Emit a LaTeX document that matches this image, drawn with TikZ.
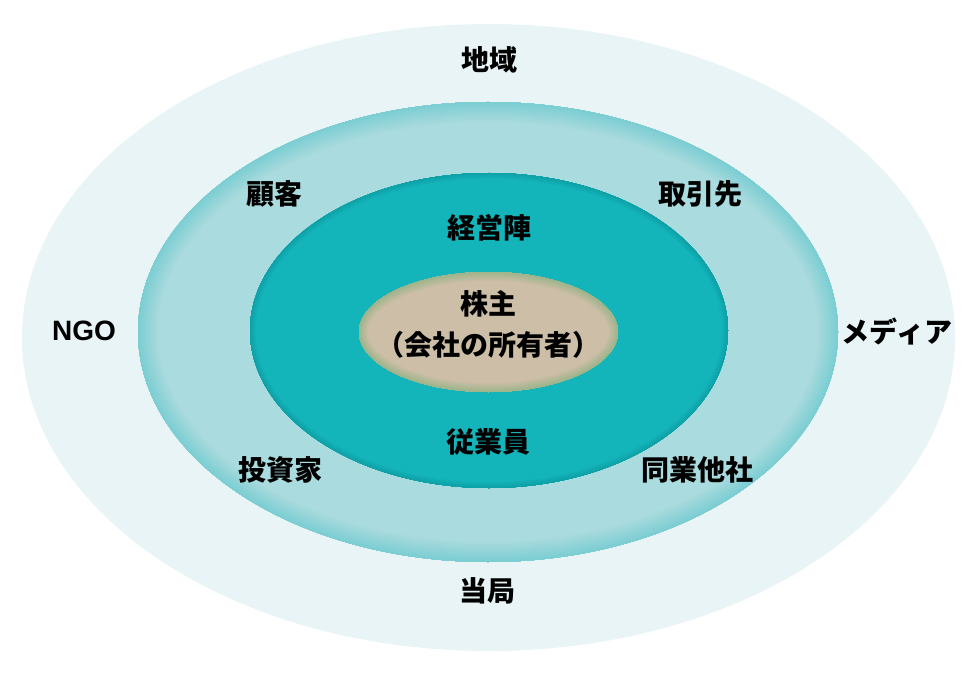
\documentclass[tikz,border=0pt]{standalone}
\usepackage{fontspec}
\newfontfamily\jp{Noto Sans CJK JP}
\newfontfamily\lat{Liberation Sans}
\definecolor{cA}{HTML}{E8F4F6}
\definecolor{cB}{HTML}{AADBDE}
\definecolor{cBe}{HTML}{7CCED3}
\definecolor{cC}{HTML}{13B5BB}
\definecolor{cCe}{HTML}{0EA2A8}
\definecolor{cD}{HTML}{CDBEA8}
\definecolor{cDe}{HTML}{9EB58C}
\tikzset{
  lbl/.style={font=\jp\bfseries\fontsize{28}{32}\selectfont, text=black, inner sep=0pt, align=center},
  latlbl/.style={font=\lat\bfseries\fontsize{28}{32}\selectfont, text=black, inner sep=0pt},
}
\newcommand\glowell[7]{%
  \begin{scope}
    \clip (#1) ellipse [x radius=#2, y radius=#3];
    \fill[#4] (#1) ellipse [x radius=#2, y radius=#3];
    \foreach \k in {1,...,20}{
      \pgfmathtruncatemacro\pct{100*\k/20}
      \pgfmathsetmacro\lw{2*#7*(21-\k)/20}
      \draw[line width=\lw pt, #5!\pct!#4] (#1) ellipse [x radius=#2, y radius=#3];
    }
  \end{scope}
}
\begin{document}
\begin{tikzpicture}[x=1pt,y=-1pt]
\useasboundingbox (0,0) rectangle (980,679);
\fill[white] (0,0) rectangle (980,679);
\fill[cA] (488.5,337.5) ellipse [x radius=466.5, y radius=313.5];
\glowell{488,332}{350}{230}{cB}{cBe}{}{20}
\glowell{489,330.5}{239}{157.5}{cC}{cCe}{}{6}
\glowell{488.5,332}{129.5}{60}{cD}{cDe}{}{9}
\node[lbl] (chiiki) at (489,60) {地域};
\node[lbl] (kokyaku) at (274,194) {顧客};
\node[lbl] (torihiki) at (700,194) {取引先};
\node[lbl] (keiei) at (489,228) {経営陣};
\node[lbl] (kabunushi) at (488,303.5) {株主};
\node[lbl] (shoyu) at (488,345) {（会社の所有者）};
\node[latlbl] (ngo) at (84,331) {NGO};
\node[lbl] (media) at (897,331.5) {メディア};
\node[lbl] (jugyo) at (488,441.5) {従業員};
\node[lbl] (toshi) at (280,470) {投資家};
\node[lbl] (dogyo) at (697,470) {同業他社};
\node[lbl] (tokyoku) at (487,591) {当局};
\end{tikzpicture}
\end{document}
